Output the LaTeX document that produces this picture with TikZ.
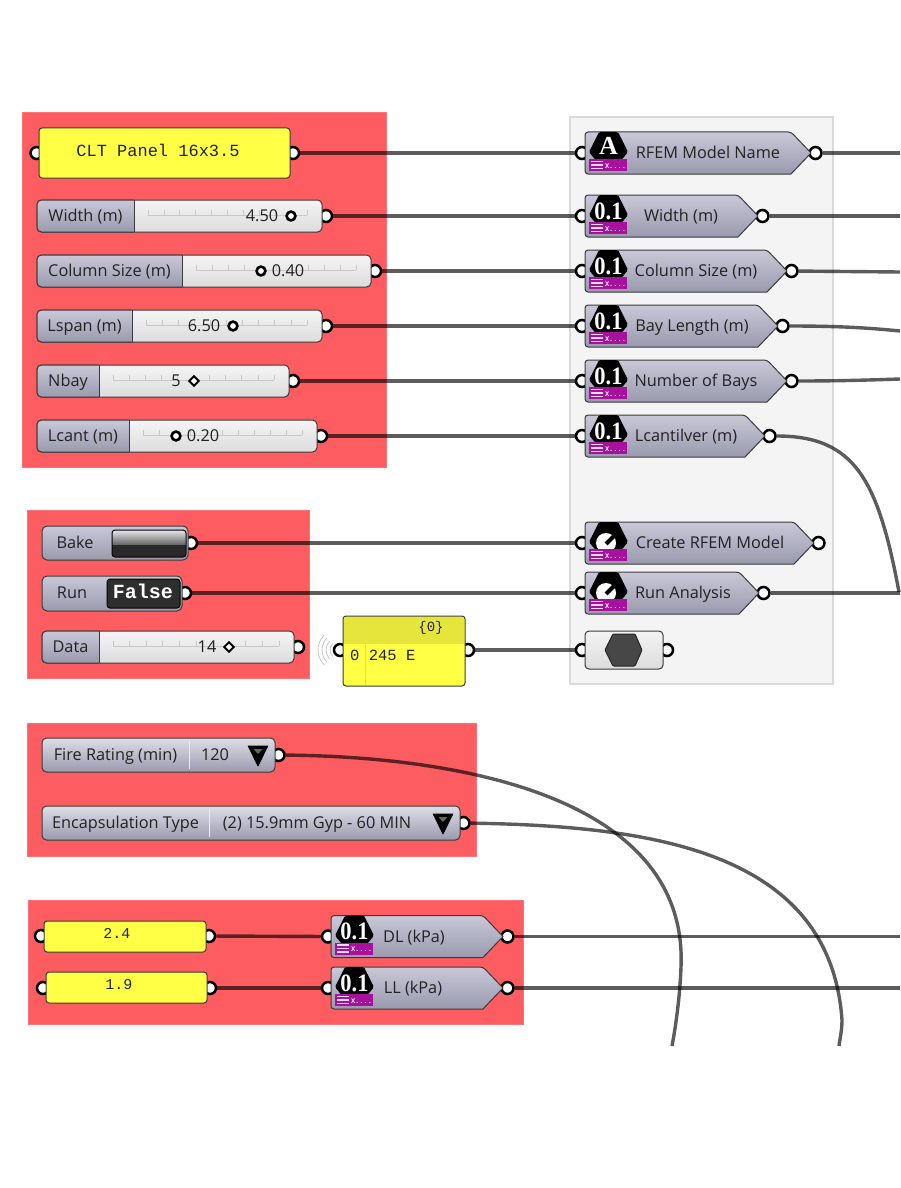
\documentclass[tikz,border=0pt]{standalone}
\usepackage{fontspec}
\setmainfont{Open Sans}
\setmonofont{Liberation Mono}
\newfontfamily\iconfont{Liberation Serif}
\pgfdeclarelayer{bgl}\pgfdeclarelayer{wirel}\pgfsetlayers{bgl,wirel,main}
\definecolor{grpred}{HTML}{FD5C60}
\definecolor{grpgray}{HTML}{F4F4F4}
\definecolor{grpedge}{HTML}{DADADA}
\definecolor{panely}{HTML}{FFFF46}
\definecolor{panelh}{HTML}{E5E53C}
\definecolor{bodytop}{HTML}{C8C8D8}
\definecolor{bodybot}{HTML}{9A9AAE}
\definecolor{sltop}{HTML}{F4F4F4}
\definecolor{slbot}{HTML}{DCDCDC}
\definecolor{edgec}{HTML}{3A3A3A}
\definecolor{purp}{HTML}{A8109E}
\definecolor{inkc}{HTML}{222222}
\definecolor{tickc}{HTML}{C8C8C8}
\tikzset{
  gport/.style={circle,draw=black,line width=2.5pt,fill=white,minimum size=12pt,inner sep=0pt},
  wire/.style={draw=black,draw opacity=.64,line width=3.4pt},
  ltext/.style={font=\fontsize{16.3}{18}\selectfont,text=inkc,inner sep=0pt,text height=12pt,text depth=1pt},
  mtext/.style={font=\ttfamily\fontsize{17}{20}\selectfont,text=inkc,inner sep=0pt},
  bodyfill/.style={draw=edgec,line width=1pt,top color=bodytop,bottom color=bodybot},
  slidefill/.style={draw=edgec,line width=1pt,top color=sltop,bottom color=slbot},
  yellowfill/.style={draw=edgec,line width=1pt,fill=panely,rounded corners=3pt},
  redgroup/.style={fill=grpred,draw=grpred!85!white,line width=.6pt},
}
% icon: id, left x, yc, kind code
\newcommand{\picon}[4]{%
  \fill[black,rounded corners=1.5pt] (#2+4,#3-1) -- (#2+14,#3-21) -- (#2+33,#3-21) -- (#2+43,#3-1) -- (#2+34,#3+10) -- (#2+13,#3+10) -- cycle;
  #4
  \fill[purp] (#2+4,#3+6) rectangle (#2+42,#3+18);
  \draw[white!85!purp,line width=1.4pt] (#2+6,#3+8.3) -- ++(12,0) (#2+6,#3+11.8) -- ++(12,0) (#2+6,#3+15.3) -- ++(12,0);
  \node[inner sep=0pt,text=white,font=\ttfamily\bfseries\fontsize{7}{7}\selectfont] (#1-x) at (#2+30.5,#3+13) {X....};
}
\newcommand{\iconA}[3]{\node[inner sep=0pt,text=white,font=\iconfont\bfseries\fontsize{26}{26}\selectfont] (#1-g) at (#2+23.5,#3-7) {A};}
\newcommand{\iconN}[3]{\node[inner sep=0pt,text=white,xscale=.9,font=\iconfont\bfseries\fontsize{25}{25}\selectfont] (#1-g) at (#2+23.5,#3-5) {0.1};}
\newcommand{\iconK}[2]{\fill[white] (#1+21,#2) circle (10); \draw[black,line width=4pt] (#1+21,#2+1) -- ++(11,-11);}
% param: id, x0, tip, yc, kind code, label cx, label
\newcommand{\param}[7]{%
  \node[gport] (#1-i) at (#2-3,#4) {};
  \node[gport] (#1-o) at (#3+4.5,#4) {};
  \path[bodyfill,rounded corners=3pt] (#2,#4-21) -- (#3-20,#4-21) [sharp corners]-- (#3,#4) -- (#3-20,#4+21) [rounded corners=3pt]-- (#2,#4+21) -- cycle;
  \picon{#1}{#2}{#4}{#5}
  \node[ltext] (#1-t) at (#6,#4) {#7};
}
% slider: id, x0, x1, yc, divider, label, value cx, value, grip code
\newcommand{\slider}[9]{%
  \node[gport] (#1-o) at (#3+4,#4) {};
  \path[slidefill,rounded corners=4.5pt] (#2,#4-16) rectangle (#3,#4+16);
  \begin{scope}
    \clip (#2-1,#4-17) rectangle (#5,#4+17);
    \path[bodyfill,rounded corners=4.5pt] (#2,#4-16) rectangle (#3,#4+16);
  \end{scope}
  \draw[edgec,line width=1pt] (#5,#4-16) -- (#5,#4+16);
  \draw[tickc,line width=.7pt] (#5+14,#4-1) -- (#3-15,#4-1);
  \foreach \t in {0,...,10} \draw[tickc,line width=.7pt] ({#5+14+\t*(#3-#5-29)/10},#4-6) -- ++(0,5);
  \node[ltext] (#1-t) at ({(#2+#5)/2},#4) {#6};
  \node[ltext] (#1-v) at (#7,#4) {#8};
  #9
}
\newcommand{\gripc}[2]{\draw[black,line width=2.6pt,fill=white] (#1,#2) circle (4.4);}
\newcommand{\gripd}[2]{\draw[black,line width=2pt,fill=white] (#1-4.8,#2) -- (#1,#2-4.8) -- (#1+4.8,#2) -- (#1,#2+4.8) -- cycle;}
% dropdown: id, x1, yc, divider, label, value cx, value, triangle x
\newcommand{\dropdown}[8]{%
  \node[gport] (#1-o) at (#2+3.5,#3) {};
  \path[bodyfill,rounded corners=4.5pt,top color=bodytop!60!white] (42,#3-17) rectangle (#2,#3+17);
  \draw[white!85!gray,line width=1pt] (#4,#3-14) -- (#4,#3+14);
  \node[ltext] (#1-t) at ({(42+#4)/2},#3) {#5};
  \node[ltext] (#1-v) at (#6,#3) {#7};
  \fill[black,rounded corners=.6pt] (#8-10.5,#3-9.5) -- (#8+10.5,#3-9.5) -- (#8,#3+12) -- cycle;
  \fill[gray!80!black] (#8-4.5,#3-6) -- (#8+4.5,#3-6) -- (#8,#3-1) -- cycle;
}
\begin{document}
\begin{tikzpicture}[x=1pt,y=-1pt]
\useasboundingbox (0,0) rectangle (900,1188);
\begin{pgfonlayer}{bgl}
  \fill[white] (0,0) rectangle (900,1188);
  \draw[fill=grpgray,draw=grpedge,line width=1.2pt] (570,117) rectangle (833,684);
  \draw[redgroup] (22,112) rectangle (386,467);
  \draw[redgroup] (27,510) rectangle (309,678);
  \draw[redgroup] (27,723) rectangle (476,856);
  \draw[redgroup] (28,900) rectangle (523,1024);
\end{pgfonlayer}

% CLT panel
\node[gport] (clt-i) at (36.5,153) {};
\node[gport] (clt-o) at (293,153) {};
\path[yellowfill] (39,128) rectangle (290,178);
\node[mtext] (clt-t) at (158,150) {CLT Panel 16x3.5};

% sliders
\slider{sw}{37}{322}{216}{134}{Width (m)}{262}{4.50}{\gripc{291}{216}}
\slider{sc}{37}{371}{271}{182}{Column Size (m)}{288}{0.40}{\gripc{261}{271}}
\slider{sl}{37}{322}{326}{132}{Lspan (m)}{204}{6.50}{\gripc{233}{326}}
\slider{sn}{37}{289}{381}{99}{Nbay}{176}{5}{\gripd{194}{381}}
\slider{sk}{37}{317}{436}{129}{Lcant (m)}{203}{0.20}{\gripc{176}{436}}
\slider{sd}{42}{294}{647}{99}{Data}{207}{14}{\gripd{229}{647}}

% bake and run
\node[gport] (bk-o) at (191,543) {};
\path[bodyfill,rounded corners=5pt] (42,526) rectangle (188,560);
\node[ltext] (bk-t) at (75,543) {Bake};
\begin{scope}
  \clip[rounded corners=3pt] (112,530) rectangle (186,557);
  \path[top color=white!82!gray,bottom color=black!62] (112,530) rectangle (186,545);
  \fill[black!84] (112,545) rectangle (186,557);
\end{scope}
\draw[black,line width=1pt,rounded corners=3pt] (112,530) rectangle (186,557);
\node[gport] (rn-o) at (185,593) {};
\path[bodyfill,rounded corners=5pt] (42,576) rectangle (182,611);
\node[ltext] (rn-t) at (72,593) {Run};
\path[draw=black,line width=1pt,fill=black!82,rounded corners=3pt] (107,579) rectangle (180,608);
\node[inner sep=0pt,text=white,font=\ttfamily\bfseries\fontsize{20}{22}\selectfont] (rn-v) at (143,591) {False};

% output panel
\foreach \r in {9,13,17,21} \draw[black!22,line width=.8pt] (339,650) ++(135:\r) arc (135:225:\r);
\node[gport] (pn-i) at (340,650) {};
\node[gport] (pn-o) at (468,650) {};
\path[yellowfill] (343,616) rectangle (465,686);
\fill[panelh] (344,617) rectangle (464,644);
\draw[panelh,line width=1pt] (365,644) -- (365,685);
\node[mtext,font=\ttfamily\fontsize{14}{16}\selectfont] (pn-h) at (431,628) {\{0\}};
\node[mtext,font=\ttfamily\fontsize{15.5}{18}\selectfont,anchor=west] (pn-t) at (350,655) {0 245 E};

% params
\param{a}{585}{811}{153}{\iconA{a}{585}{153}}{708}{RFEM Model Name}
\param{b}{585}{758}{216}{\iconN{b}{585}{216}}{681}{Width (m)}
\param{c}{585}{787}{271}{\iconN{c}{585}{271}}{696}{Column Size (m)}
\param{d}{585}{778}{326}{\iconN{d}{585}{326}}{692}{Bay Length (m)}
\param{e}{585}{787}{381}{\iconN{e}{585}{381}}{696}{Number of Bays}
\param{f}{585}{765}{436}{\iconN{f}{585}{436}}{686}{Lcantilver (m)}
\param{g}{585}{814}{543}{\iconK{585}{543}}{710}{Create RFEM Model}
\param{h}{585}{759}{593}{\iconK{585}{593}}{683}{Run Analysis}
\param{dl}{331}{503}{936.5}{\iconN{dl}{331}{936.5}}{414}{DL (kPa)}
\param{ll}{331}{503}{988}{\iconN{ll}{331}{988}}{413}{LL (kPa)}

% hex
\node[gport] (hx-i) at (582,650) {};
\node[gport] (hx-o) at (667,650) {};
\path[slidefill,rounded corners=4pt] (585,631) rectangle (663,669);
\draw[black!85,fill=black!72,line width=1pt,rounded corners=1pt] (605,650) -- (613,634) -- (635,634) -- (642,650) -- (635,666) -- (613,666) -- cycle;

% dropdowns
\dropdown{fr}{275}{755}{189}{Fire Rating (min)}{215}{120}{258}
\dropdown{en}{460}{823}{209}{Encapsulation Type}{317}{(2) 15.9mm Gyp - 60 MIN}{443}

% numeric panels
\node[gport] (p1-i) at (41,936) {};
\node[gport] (p1-o) at (209,936) {};
\path[yellowfill] (44,921) rectangle (206,952);
\node[mtext,font=\ttfamily\fontsize{15}{18}\selectfont] (p1-t) at (117,933) {2.4};
\node[gport] (p2-i) at (43,988) {};
\node[gport] (p2-o) at (210,988) {};
\path[yellowfill] (46,972) rectangle (207,1003);
\node[mtext,font=\ttfamily\fontsize{15}{18}\selectfont] (p2-t) at (119,985) {1.9};

% free ends
\coordinate (ea) at (900,153);
\coordinate (eb) at (900,216);
\coordinate (ec) at (900,272);
\coordinate (ed) at (900,331);
\coordinate (ee) at (900,379);
\coordinate (ef) at (899,592);
\coordinate (eh) at (900,593);
\coordinate (edl) at (900,936.5);
\coordinate (ell) at (900,988);
\coordinate (efr) at (672,1046);
\coordinate (een) at (839,1046);

\begin{pgfonlayer}{wirel}
  \path[wire] (clt-o) -- (a-i);
  \path[wire] (sw-o) -- (b-i);
  \path[wire] (sc-o) -- (c-i);
  \path[wire] (sl-o) -- (d-i);
  \path[wire] (sn-o) -- (e-i);
  \path[wire] (sk-o) -- (f-i);
  \path[wire] (bk-o) -- (g-i);
  \path[wire] (rn-o) -- (h-i);
  \path[wire] (pn-o) -- (hx-i);
  \path[wire] (p1-o) -- (dl-i);
  \path[wire] (p2-o) -- (ll-i);
  \path[wire] (a-o) -- (ea);
  \path[wire,line width=4pt] (b-o) -- (eb);
  \path[wire] (c-o) -- (ec);
  \path[wire] (d-o) .. controls (840,326) and (870,328) .. (ed);
  \path[wire] (e-o) .. controls (840,381) and (870,380) .. (ee);
  \path[wire] (f-o) .. controls (855,436) and (878,480) .. (ef);
  \path[wire] (h-o) -- (eh);
  \path[wire] (dl-o) -- (edl);
  \path[wire] (ll-o) -- (ell);
  \path[wire] (fr-o) .. controls (480,757) and (688,805) .. (681,967) .. controls (680,995) and (676,1025) .. (efr);
  \path[wire] (en-o) .. controls (650,826) and (830,850) .. (842,1020) .. controls (842,1030) and (840,1038) .. (een);
\end{pgfonlayer}
\end{tikzpicture}
\end{document}
